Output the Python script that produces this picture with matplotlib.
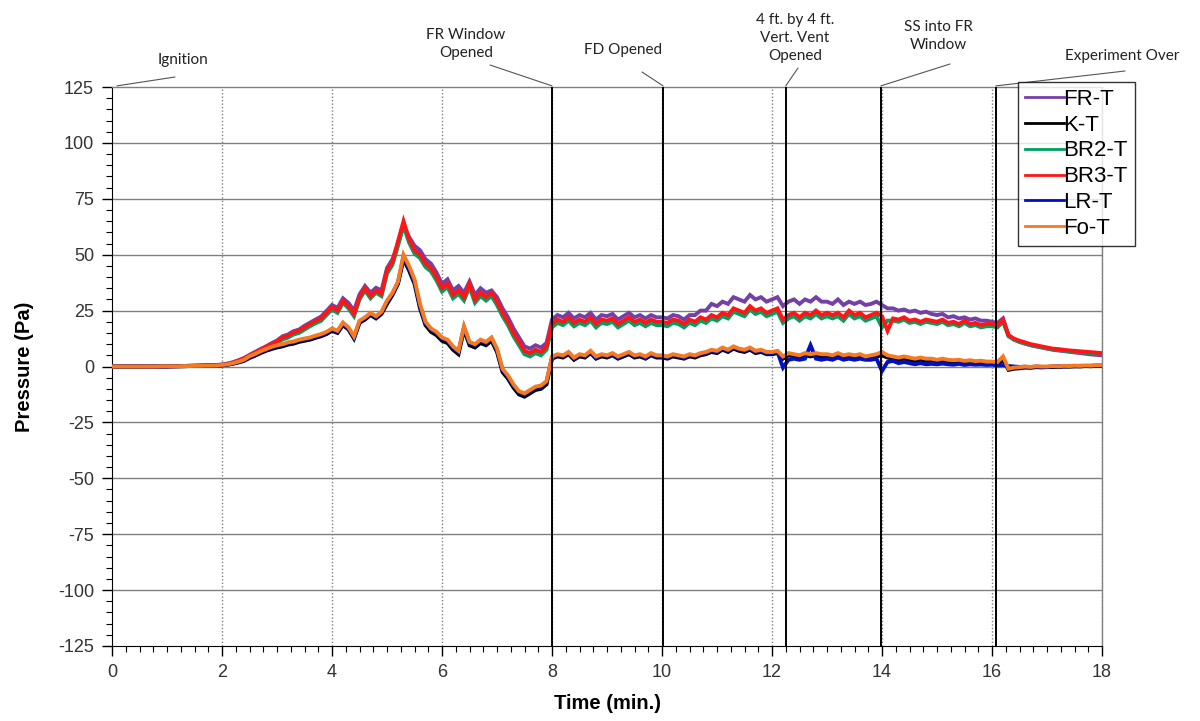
import numpy as np
import matplotlib
matplotlib.use("Agg")
import matplotlib.pyplot as plt
from matplotlib.ticker import MultipleLocator

plt.rcParams['axes.unicode_minus'] = False
plt.rcParams['font.family'] = ['Liberation Sans', 'DejaVu Sans']

# ---------------- data (sampled every 0.1 min, 0..18) ----------------
time_min = [round(i * 0.1, 1) for i in range(181)]

fr_t = [0, 0, 0, 0, 0, 0, 0, 0, 0, 0.1,
        0.1, 0.1, 0.2, 0.2, 0.3, 0.4, 0.4, 0.5, 0.6, 0.7,
        0.9, 1.3, 1.9, 2.8, 3.8, 5.2, 6.5, 7.8, 9.0, 10.4,
        11.6, 13.5, 14.3, 15.8, 16.5, 18.2, 19.6, 21.0, 22.3, 24.8,
        27.5, 26.2, 30.5, 28.4, 25.0, 32.2, 36.0, 33.0, 35.2, 34.0,
        44, 48, 55, 63, 58, 54, 52, 48, 46, 42,
        37, 39, 34, 36, 33, 38, 32, 35, 33, 34,
        31, 26, 22, 17, 13, 9, 8, 9.5, 8.5, 10.5,
        21, 23, 22, 24, 21.5, 23, 22, 24, 21, 23,
        22.5, 23.5, 21, 22.5, 24, 22, 23, 21.5, 23, 22,
        22, 21.5, 23, 22.5, 21, 23, 23, 25, 25, 28,
        27, 29, 28, 31, 30, 29, 32, 30, 31, 29,
        30, 31, 27, 29, 30, 28, 30, 29, 31, 29,
        29, 28, 30, 27.5, 29, 28, 29, 27.5, 28, 29,
        27.5, 26, 26, 25, 25.5, 24.5, 25, 24, 24.5, 23.5,
        23, 23.5, 22, 22.5, 21.5, 22, 21, 21.5, 20.5, 20.5,
        20, 19.5, 21.5, 14, 12, 11, 10.2, 9.5, 9, 8.5,
        8, 7.5, 7.2, 6.9, 6.6, 6.3, 6, 5.7, 5.4, 5.2,
        5]

k_t = [0, 0, 0, 0, 0, 0, 0, 0, 0, 0,
       0, 0.1, 0.1, 0.1, 0.2, 0.2, 0.3, 0.3, 0.4, 0.4,
       0.5, 0.8, 1.2, 1.8, 2.5, 3.8, 4.8, 6.0, 7.0, 7.8,
       8.5, 9.0, 9.8, 10.2, 11.0, 11.5, 12.0, 12.8, 13.5, 14.5,
       16.0, 15.0, 18.5, 16.5, 12.5, 19.5, 21.0, 23.0, 21.5, 23.5,
       28, 32, 37, 48, 43, 37, 26, 18.5, 15.5, 14,
       11.5, 10.5, 7.5, 5.5, 16.5, 9.5, 8.5, 10.5, 9.5, 11.5,
       6.5, -2.5, -5.5, -9.5, -12.5, -13.5, -12, -10.5, -10, -8,
       3.5, 4.5, 4, 5.5, 3, 4.5, 4, 6, 3.5, 4.5,
       4, 5, 3.5, 4.5, 5.5, 4, 4.5, 3.5, 5, 4,
       4, 3.5, 4.5, 4, 3.5, 4.5, 4, 5, 5.5, 6.5,
       6, 7.5, 6.5, 8, 7, 6.5, 7.5, 6, 6.5, 5.5,
       5.5, 6, 3.5, 5, 4.5, 4, 5, 4.5, 5, 4.5,
       4.5, 4, 5, 4, 4.5, 4, 4.5, 3.5, 4, 4.5,
       5, 4, 3.5, 3, 3.5, 3, 2.5, 3, 2.5, 2.5,
       2, 2.5, 2, 1.8, 2, 1.5, 1.8, 1.4, 1.6, 1.2,
       1.2, 1, 3, -1.5, -1, -0.8, -0.5, -0.6, -0.3, -0.4,
       -0.3, -0.2, -0.3, 0, -0.1, 0.1, 0, 0.2, 0.1, 0.3,
       0.3]

br2_t = [0, 0, 0, 0, 0, 0, 0, 0, 0, 0.1,
         0.1, 0.1, 0.2, 0.2, 0.3, 0.3, 0.4, 0.4, 0.5, 0.5,
         0.7, 1.1, 1.6, 2.3, 3.2, 4.4, 5.6, 6.8, 8.0, 9.2,
         10.4, 12.1, 12.9, 14.3, 15.0, 16.5, 18.0, 19.3, 20.4, 23.0,
         25.5, 24.0, 28.5, 26.0, 22.5, 30.0, 34.0, 30.5, 33.0, 31.5,
         41.5, 45.5, 54, 63, 55.5, 50.5, 48.5, 44.5, 42.5, 38.5,
         33.5, 35.5, 30.5, 32.5, 29.5, 35.5, 28.5, 31.5, 29.5, 31.5,
         27.5, 22.5, 18.5, 13.5, 9.5, 5.5, 4.5, 6, 5, 7.5,
         17.5, 19.5, 18.5, 20.5, 18, 19.5, 18.5, 20.5, 17.5, 19.5,
         19, 20, 17.5, 19, 20.5, 18.5, 19.5, 18, 19.5, 18.5,
         18.5, 18, 19.5, 19, 17.5, 19.5, 18.5, 20.5, 19.5, 21.5,
         20.5, 22.5, 21.5, 24.5, 23.5, 22.5, 25.5, 23.5, 24.5, 22.5,
         23.5, 24.5, 19.5, 21.5, 22.5, 20.5, 22.5, 21.5, 23.5, 21.5,
         22.5, 21.5, 22.5, 20.5, 23.5, 21.5, 22.5, 20.5, 21.5, 22.5,
         17.5, 20.5, 20.5, 20, 21, 19.5, 20, 19, 20, 19.5,
         19, 20, 18.5, 19, 18, 19.5, 18, 18.5, 17.5, 18,
         18, 17.5, 20, 13.5, 12, 11, 10.3, 9.6, 9.1, 8.6,
         8.1, 7.7, 7.4, 7.1, 6.8, 6.6, 6.4, 6.2, 6, 5.8,
         5.7]

br3_t = [0, 0, 0, 0, 0, 0, 0, 0, 0, 0.1,
         0.1, 0.1, 0.2, 0.2, 0.3, 0.3, 0.4, 0.5, 0.5, 0.6,
         0.8, 1.2, 1.8, 2.6, 3.6, 5.0, 6.2, 7.5, 8.8, 10.0,
         11.2, 13.0, 13.8, 15.2, 16.0, 17.5, 19.0, 20.3, 21.5, 24.0,
         26.5, 25.0, 29.5, 27.0, 23.5, 31.0, 35.0, 31.5, 34.0, 32.5,
         43, 47, 56, 65, 57, 52, 50, 46, 44, 40,
         35, 37, 32, 34, 31, 37, 30, 33, 31, 33,
         29, 24, 20, 15, 11, 7, 6, 7.5, 6.5, 9,
         19, 21, 20, 22, 19.5, 21, 20, 22, 19, 21,
         20.5, 21.5, 19, 20.5, 22, 20, 21, 19.5, 21, 20,
         20, 19.5, 21, 20.5, 19, 21, 20, 22, 21, 23,
         22, 24, 23, 26, 25, 24, 27, 25, 26, 24,
         25, 26, 21, 23, 24, 22, 24, 23, 25, 23,
         24, 23, 24, 22, 25, 23, 24, 22, 23, 24,
         22.5, 16, 21.5, 21, 22, 20.5, 21, 20, 21, 20.5,
         20, 21, 19.5, 20, 19, 20.5, 19, 19.5, 18.5, 19,
         19, 18.5, 21, 14, 12.5, 11.5, 10.8, 10, 9.5, 9,
         8.5, 8, 7.8, 7.5, 7.2, 7, 6.8, 6.6, 6.4, 6.2,
         6]

lr_t = [0, 0, 0, 0, 0, 0, 0, 0, 0, 0,
        0, 0.1, 0.1, 0.2, 0.2, 0.3, 0.3, 0.4, 0.4, 0.5,
        0.6, 0.9, 1.4, 2.0, 2.8, 4.2, 5.2, 6.4, 7.4, 8.4,
        9.0, 9.6, 10.4, 10.8, 11.6, 12.0, 12.6, 13.3, 14.0, 15.0,
        16.5, 15.5, 19.0, 17.0, 13.0, 20.0, 21.5, 23.5, 22.0, 24.0,
        29, 32.5, 37.5, 49, 44, 38, 27, 19.5, 16.5, 15,
        12.5, 11.5, 8.5, 6.5, 17.5, 10.5, 9.5, 11.5, 10.5, 12.5,
        7.5, -1.5, -4.5, -8.5, -11.5, -12.5, -11, -9.5, -9, -7,
        4, 5, 4.5, 6, 3.5, 5, 4.5, 6.5, 4, 5,
        4.5, 5.5, 4, 5, 6, 4.5, 5, 4, 5.5, 4.5,
        4.5, 4, 5, 4.5, 4, 5, 4.5, 5.5, 6, 7,
        6.5, 8, 7, 8.5, 7.5, 7, 8, 6.5, 7, 6,
        6, 6.5, -0.5, 3, 3.5, 3, 3.5, 9.5, 3.5, 3,
        3.5, 3, 4, 3, 3.5, 3, 3.5, 3, 3, 3.5,
        -2, 2, 2.5, 1.5, 2, 1.5, 1, 1.5, 1, 1.2,
        1, 1.3, 1, 0.8, 1.2, 0.7, 1, 0.8, 0.9, 0.7,
        0.8, 0.5, 0.6, 0.2, 0, -0.2, -0.1, -0.3, 0, -0.2,
        -0.2, 0, 0.1, 0, 0.2, 0.1, 0.3, 0.2, 0.3, 0.4,
        0.4]

fo_t = [0, 0, 0, 0, 0, 0, 0, 0, 0, 0.1,
        0.1, 0.1, 0.1, 0.2, 0.2, 0.3, 0.3, 0.4, 0.4, 0.5,
        0.7, 1.0, 1.5, 2.2, 3.0, 4.6, 5.6, 6.8, 7.8, 8.8,
        9.5, 10.0, 10.8, 11.2, 12.0, 12.5, 13.0, 13.8, 14.5, 15.5,
        17.0, 16.0, 19.7, 17.5, 13.5, 20.5, 22.0, 24.0, 22.5, 24.5,
        29.5, 33, 38, 50, 45, 39, 28, 20, 17, 15.5,
        13, 12, 9, 7, 18, 11, 10, 12, 11, 13,
        8, -1, -4, -8, -11, -12, -10.5, -9, -8.5, -6.5,
        4.5, 5.5, 5, 6.5, 4, 5.5, 5, 7, 4.5, 5.5,
        5, 6, 4.5, 5.5, 6.5, 5, 5.5, 4.5, 6, 5,
        5, 4.5, 5.5, 5, 4.5, 5.5, 5, 6, 6.5, 7.5,
        7, 8.5, 7.5, 9, 8, 7.5, 8.5, 7, 7.5, 6.5,
        6.5, 7, 4.5, 6, 5.5, 5, 6, 5.5, 6, 5.5,
        5.5, 5, 6, 5, 5.5, 5, 5.5, 4.5, 5, 5.5,
        6.5, 5, 4.5, 4, 4.5, 4, 3.5, 4, 3.5, 3.5,
        3, 3.5, 3, 2.8, 3, 2.5, 2.8, 2.4, 2.6, 2.2,
        2.2, 2, 4.5, -1, -0.5, -0.3, 0, -0.2, 0.1, 0,
        0, 0.2, 0, 0.3, 0.2, 0.4, 0.3, 0.5, 0.4, 0.6,
        0.6]

series_names = ['FR-T', 'K-T', 'BR2-T', 'BR3-T', 'LR-T', 'Fo-T']
series_values = [fr_t, k_t, br2_t, br3_t, lr_t, fo_t]
series_colors = ['#7440A8', '#000000', '#00A060', '#FF1515', '#0010C0', '#F57A20']

event_times = [8.0, 10.02, 12.25, 13.98, 16.07]

# annotations: text, event time, text centre (fig px from top-left), leader end (fig px)
annotations = [
    ("Ignition", 0.09, (183, 60), (175, 77)),
    ("FR Window\nOpened", 8.0, (466, 44), (490, 65)),
    ("FD Opened", 10.02, (623, 50), (642, 72)),
    ("4 ft. by 4 ft.\nVert. Vent\nOpened", 12.25, (795, 38), (798, 68)),
    ("SS into FR\nWindow", 13.98, (938, 36), (950, 64)),
    ("Experiment Over", 16.07, (1122, 56), (1125, 71)),
]

# ---------------- figure ----------------
W, H = 1200, 721
fig = plt.figure(figsize=(W / 100, H / 100), dpi=100)
ax = fig.add_axes([112 / W, 1 - 646 / H, (1102 - 112) / W, (646 - 87) / H])

ax.set_xlim(0, 18)
ax.set_ylim(-125, 125)

# grid
for yv in range(-100, 125, 25):
    ax.axhline(yv, color='#808080', lw=1.0, zorder=1)
for xv in range(2, 19, 2):
    ax.axvline(xv, color='#808080', lw=1.0, ls=(0, (1, 1.5)), zorder=1)

for name, vals, col in zip(series_names, series_values, series_colors):
    ax.plot(time_min, vals, color=col, lw=2.8, label=name, zorder=3,
            solid_joinstyle='miter')

for et in event_times:
    ax.axvline(et, color='black', lw=1.4, zorder=4)

ax.xaxis.set_major_locator(MultipleLocator(2))
ax.xaxis.set_minor_locator(MultipleLocator(0.25))
ax.yaxis.set_major_locator(MultipleLocator(25))
ax.yaxis.set_minor_locator(MultipleLocator(5))
ax.tick_params(axis='both', which='major', direction='out', length=7, width=1,
               labelsize=13, colors='black', pad=6)
ax.tick_params(axis='both', which='minor', direction='out', length=4, width=0.8)
for lab in ax.get_xticklabels() + ax.get_yticklabels():
    lab.set_color('#333333')

ax.spines['left'].set_color('black')
ax.spines['bottom'].set_color('black')
ax.spines['top'].set_color('#808080')
ax.spines['right'].set_color('#808080')
ax.spines['top'].set_linewidth(1.0)
ax.spines['right'].set_linewidth(1.0)

ax.set_xlabel('Time (min.)', fontsize=14.5, fontweight='bold', labelpad=9)
ax.set_ylabel('Pressure (Pa)', fontsize=14.5, fontweight='bold', labelpad=17)

# annotations
for txt, et, (tx, ty), (lx, ly) in annotations:
    fig.text(tx / W, 1 - ty / H, txt, ha='center', va='center', fontsize=11,
             family=['Lato', 'DejaVu Sans'], color='#222222', linespacing=1.4)
    ax.annotate('', xy=(et, 125.5), xycoords='data',
                xytext=(lx, H - ly), textcoords='figure pixels',
                arrowprops=dict(arrowstyle='-', color='#555555', lw=0.8,
                                shrinkA=0, shrinkB=0),
                annotation_clip=False)

leg = fig.legend(loc='upper left', bbox_to_anchor=(1018 / W, 1 - 82 / H),
                 bbox_transform=fig.transFigure, frameon=True, fancybox=False,
                 fontsize=16, handlelength=1.75, handletextpad=0.0,
                 labelspacing=0.22, borderpad=0.3, borderaxespad=0.0)
leg.get_frame().set_edgecolor('black')
leg.get_frame().set_linewidth(1.0)
leg.set_zorder(10)
for line in leg.get_lines():
    line.set_linewidth(2.0)

fig.savefig('out.png', dpi=100)
